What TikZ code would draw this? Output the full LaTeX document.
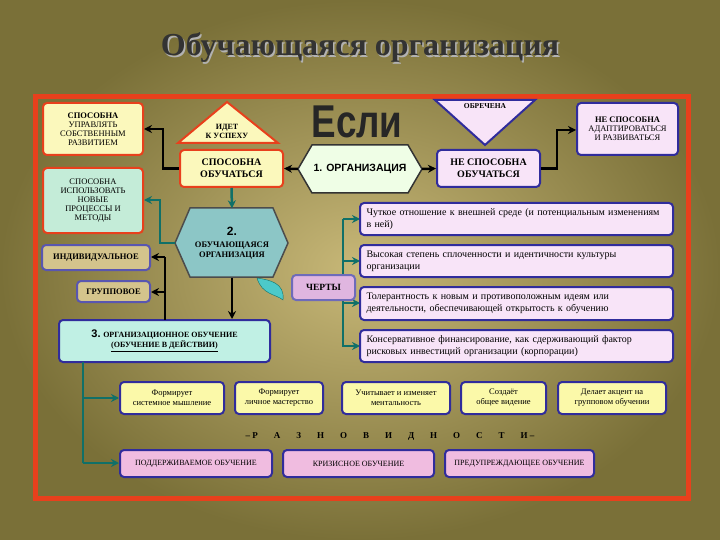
\documentclass[tikz,border=0pt]{standalone}
\usepackage{fontspec}
\setmainfont{Liberation Serif}
\newfontfamily\sansf{Liberation Sans}
\usetikzlibrary{arrows.meta}
\definecolor{redf}{HTML}{E8401C}
\definecolor{bbord}{HTML}{302C9C}
\definecolor{teal2}{HTML}{107068}
\definecolor{yel}{HTML}{FBF8BC}
\definecolor{grn}{HTML}{C4ECD8}
\definecolor{pnk}{HTML}{F8E4F8}
\definecolor{pnk2}{HTML}{F0BCE0}
\definecolor{tan}{HTML}{D4C48C}
\definecolor{cyn}{HTML}{C0F0E4}
\definecolor{bgin}{HTML}{C8B878}
\definecolor{bgout}{HTML}{7A7038}
\newcommand\bx[7]{\node[#6,minimum width={(#4-#2)*1pt},minimum height={(#5-#3)*1pt}] (#1) at ({(#2+#4)/2},{(#3+#5)/2}) {#7};}
\tikzset{
 x=1pt,y=-1pt,
 base/.style={rounded corners=4pt,line width=2pt,inner sep=1pt,align=center,font=\fontsize{8.5}{9}\selectfont},
 redbox/.style={base,draw=redf,fill=yel},
 grnbox/.style={base,draw=redf,fill=grn},
 vbox/.style={base,draw=bbord!80!white,fill=tan,font=\fontsize{8.5}{9}\selectfont\bfseries},
 nbox/.style={base,draw=bbord,fill=pnk},
 bigb/.style={font=\fontsize{10}{12}\selectfont\bfseries},
 feat/.style={base,draw=bbord,fill=pnk,align=left,text width=300pt,font=\fontsize{10}{12}\selectfont},
 ybox/.style={base,draw=bbord,fill=yel!90!yellow,font=\fontsize{8.5}{10}\selectfont},
 pbox/.style={base,draw=bbord,fill=pnk2,font=\fontsize{8}{9}\selectfont},
 blk/.style={line width=2.5pt,black,-{Stealth[length=8pt,width=8pt]}},
 tl/.style={line width=2.5pt,teal2,-{Stealth[length=8pt,width=8pt]}},
}
\begin{document}
\begin{tikzpicture}
\useasboundingbox (0,0) rectangle (720,540);
\shade[inner color=bgin,outer color=bgout] (0,0) rectangle (720,540);
\node[font=\fontsize{32}{34}\selectfont\bfseries,text=black!30] at (361.5,49.5) {Обучающаяся организация};
\node[font=\fontsize{32}{34}\selectfont\bfseries,text=black!80] (title) at (360,48) {Обучающаяся организация};
\draw[redf,line width=5pt] (35,97) rectangle (688,498);
% left boxes
\bx{upr}{43}{103}{143}{155}{redbox}{\textbf{СПОСОБНА}\\УПРАВЛЯТЬ\\СОБСТВЕННЫМ\\РАЗВИТИЕМ}
\bx{isp}{43}{168}{143}{233}{grnbox}{СПОСОБНА\\ИСПОЛЬЗОВАТЬ\\НОВЫЕ\\ПРОЦЕССЫ И\\МЕТОДЫ}
\bx{ind}{42}{245}{150}{270}{vbox}{ИНДИВИДУАЛЬНОЕ}
\bx{grp}{77}{281}{150}{302}{vbox}{ГРУППОВОЕ}
% triangle
\draw[redf,line width=2pt,fill=yel] (227,102) -- (278,143) -- (178,143) -- cycle;
\node[font=\fontsize{8}{9}\selectfont\bfseries,align=center] (usp) at (227,131) {ИДЕТ\\К УСПЕХУ};
\bx{sob}{180}{150}{283}{187}{redbox,bigb}{СПОСОБНА\\ОБУЧАТЬСЯ}
% Esli
\node[font=\sansf\bfseries\fontsize{46}{46}\selectfont,xscale=0.8,text=black!85] (esli) at (357,122) {Если};
% hex1
\node (org) at (360,169) [minimum width=124pt,minimum height=48pt] {};
\draw[black!80,line width=1.5pt,fill=yel!70!green!20] (298,169) -- (312,145) -- (408,145) -- (422,169) -- (408,193) -- (312,193) -- cycle;
\node[font=\sansf\bfseries\fontsize{10.5}{12}\selectfont] at (360,169) {1. ОРГАНИЗАЦИЯ};
% obrechena
\draw[bbord,line width=2pt,fill=pnk] (435,100) -- (535,100) -- (485,145) -- cycle;
\node[font=\fontsize{7.5}{8}\selectfont\bfseries] (obr) at (485,106) {ОБРЕЧЕНА};
\bx{nso}{437}{150}{540}{187}{nbox,bigb}{НЕ СПОСОБНА\\ОБУЧАТЬСЯ}
\bx{nad}{577}{103}{678}{155}{nbox}{\textbf{НЕ СПОСОБНА}\\АДАПТИРОВАТЬСЯ\\И РАЗВИВАТЬСЯ}
% hex2
\node (hex2) at (232,243) [minimum width=113pt,minimum height=69pt] {};
\draw[black!70,line width=1.5pt,fill=teal!45!white] (175,243) -- (190,208) -- (273,208) -- (288,243) -- (273,277) -- (190,277) -- cycle;
\node[font=\bfseries\fontsize{8.5}{10}\selectfont,align=center] at (232,243) {{\sansf\fontsize{12}{14}\selectfont 2.}\\[2pt]ОБУЧАЮЩАЯСЯ\\ОРГАНИЗАЦИЯ};
\fill[teal!60!cyan!70,draw=teal2] (257,278) .. controls (270,280) and (285,283) .. (283,300) .. controls (276,294) and (262,295) .. (257,278);
% features
\draw[teal2,line width=2.5pt] (343,219) -- (343,347);
\foreach \y in {219,261,303,346} \draw[tl] (343,\y) -- (360,\y);
\bx{chr}{292}{275}{355}{300}{base,draw=bbord!70!white,fill=pnk!80!violet,font=\bfseries\fontsize{9.5}{10}\selectfont}{ЧЕРТЫ}
\bx{f1}{360}{203}{673}{235}{feat}{Чуткое отношение к внешней среде (и потенциальным изменениям в ней)}
\bx{f2}{360}{245}{673}{277}{feat}{Высокая степень сплоченности и идентичности культуры организации}
\bx{f3}{360}{287}{673}{320}{feat}{Толерантность к новым и противоположным идеям или деятельности, обеспечивающей открытость к обучению}
\bx{f4}{360}{330}{673}{362}{feat}{Консервативное финансирование, как сдерживающий фактор рисковых инвестиций организации (корпорации)}
% box3
\bx{b3}{59}{320}{270}{362}{base,draw=bbord,fill=cyn,font=\bfseries\fontsize{8}{10}\selectfont}{{\sansf\fontsize{11}{12}\selectfont 3.} ОРГАНИЗАЦИОННОЕ ОБУЧЕНИЕ\\\underline{(ОБУЧЕНИЕ В ДЕЙСТВИИ)}}
% row
\bx{r1}{120}{382}{224}{414}{ybox}{Формирует\\системное мышление}
\bx{r2}{235}{382}{323}{414}{ybox}{Формирует\\личное мастерство}
\bx{r3}{342}{382}{450}{414}{ybox}{Учитывает и изменяет\\ментальность}
\bx{r4}{461}{382}{546}{414}{ybox}{Создаёт\\общее видение}
\bx{r5}{558}{382}{666}{414}{ybox}{Делает акцент на\\групповом обучении}
\node[font=\bfseries\fontsize{9}{10}\selectfont] (raz) at (390,436) {-- Р\hspace{16pt}А\hspace{16pt}З\hspace{16pt}Н\hspace{16pt}О\hspace{16pt}В\hspace{16pt}И\hspace{16pt}Д\hspace{16pt}Н\hspace{16pt}О\hspace{16pt}С\hspace{16pt}Т\hspace{16pt}И --};
\bx{p1}{120}{450}{272}{477}{pbox}{ПОДДЕРЖИВАЕМОЕ ОБУЧЕНИЕ}
\bx{p2}{283}{450}{434}{477}{pbox}{КРИЗИСНОЕ ОБУЧЕНИЕ}
\bx{p3}{445}{450}{594}{477}{pbox}{ПРЕДУПРЕЖДАЮЩЕЕ ОБУЧЕНИЕ}
% connectors
\draw[blk] (org.west) -- (sob.east);
\draw[blk] (org.east) -- (nso.west);
\draw[blk] (sob.west) -- (163,168.5) |- (upr.east);
\draw[blk] (nso.east) -- (557,168.5) |- (nad.west |- 0,130);
\draw[tl] (sob.south) -- (hex2.north);
\draw[tl] (hex2.west |- 0,243) -- (160,243) |- (isp.east |- 0,200);
\draw[line width=2.5pt] (165,257) -- (165,320);
\draw[blk] (165,257) -- (ind.east |- 0,257);
\draw[blk] (165,292) -- (grp.east |- 0,292);
\draw[blk] (hex2.south) -- (b3.north -| hex2.south);
\draw[line width=2.5pt,teal2] (83,362) -- (83,463);
\draw[tl] (83,398) -- (r1.west |- 0,398);
\draw[tl] (83,463) -- (p1.west |- 0,463);
\end{tikzpicture}
\end{document}
